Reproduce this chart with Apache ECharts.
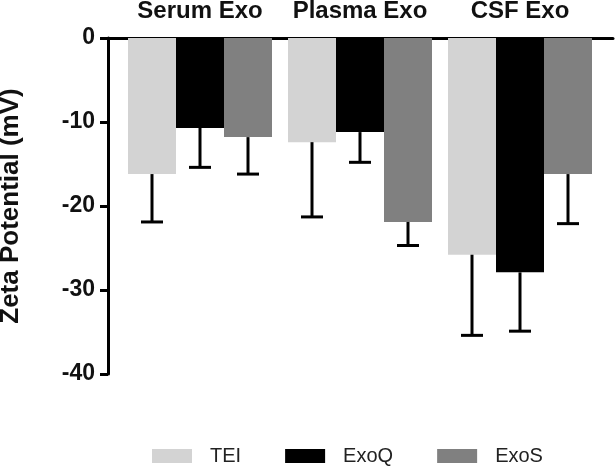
<!DOCTYPE html>
<html><head><meta charset="utf-8">
<script src="https://cdn.jsdelivr.net/npm/echarts@6/dist/echarts.min.js"></script>
<style>html,body{margin:0;padding:0;background:#fff}#c{width:615px;height:466px}</style>
</head><body><div id="c"></div>
<script>
const categories = ['Serum Exo', 'Plasma Exo', 'CSF Exo'];
const seriesNames = ['TEI', 'ExoQ', 'ExoS'];
const teiMean = [-16.2, -12.4, -25.8];
const teiErr  = [-21.9, -21.3, -35.4];
const exoqMean = [-10.7, -11.2, -27.9];
const exoqErr  = [-15.4, -14.8, -34.9];
const exosMean = [-11.8, -21.9, -16.2];
const exosErr  = [-16.2, -24.7, -22.1];
const yTicks = [-40, -30, -20, -10, 0];
const colors = ['#d3d3d3', '#000000', '#808080'];

const FONT = "'Liberation Sans', Arial, Helvetica, sans-serif";
const means = [teiMean, exoqMean, exosMean];
const errs = [teiErr, exoqErr, exosErr];
const BAR_W = 48;

const chart = echarts.init(document.getElementById('c'), null, {renderer: 'canvas'});

const bars = seriesNames.map((n, i) => ({
  name: n, type: 'bar', xAxisIndex: 1, yAxisIndex: 1,
  barWidth: BAR_W, barGap: '0%',
  itemStyle: {color: colors[i]},
  data: means[i], z: 2
}));

const errData = [];
for (let s = 0; s < 3; s++) for (let c = 0; c < categories.length; c++) errData.push([c, means[s][c], errs[s][c], s]);

const errSeries = {
  type: 'custom', xAxisIndex: 1, yAxisIndex: 1, z: 3, silent: true,
  data: errData,
  renderItem: function (params, api) {
    const c = api.value(0), m = api.value(1), e = api.value(2), s = api.value(3);
    const p0 = api.coord([c, m]);
    const p1 = api.coord([c, e]);
    const x = p0[0] + (s - 1) * BAR_W;
    const half = 11;
    return {
      type: 'group',
      children: [
        {type: 'line', shape: {x1: x, y1: p0[1], x2: x, y2: p1[1]}, style: {stroke: '#000', lineWidth: 3}},
        {type: 'line', shape: {x1: x - half, y1: p1[1], x2: x + half, y2: p1[1]}, style: {stroke: '#000', lineWidth: 3}}
      ]
    };
  }
};

chart.setOption({
  animation: false,
  backgroundColor: '#fff',
  textStyle: {fontFamily: FONT},
  grid: [
    {left: 108, right: 2, top: 38, height: 336, outerBoundsMode: 'none', containLabel: false},
    {left: 120, width: 480, top: 38, height: 336, outerBoundsMode: 'none', containLabel: false}
  ],
  legend: {
    data: seriesNames, left: 147, top: 441, icon: 'rect',
    itemWidth: 40, itemHeight: 14, itemGap: 44,
    textStyle: {fontFamily: FONT, fontSize: 20, color: '#222', padding: [0, 0, 0, 13]}
  },
  xAxis: [
    {type: 'value', gridIndex: 0, position: 'top', min: 0, max: 1,
     axisLine: {show: true, onZero: false, lineStyle: {color: '#000', width: 3}},
     axisTick: {show: false}, axisLabel: {show: false}, splitLine: {show: false}},
    {type: 'category', gridIndex: 1, position: 'top', data: categories,
     axisLine: {show: false}, axisTick: {show: false}, splitLine: {show: false},
     axisLabel: {fontFamily: FONT, fontSize: 24, fontWeight: 'bold', color: '#111', margin: 15, interval: 0}}
  ],
  yAxis: [
    {type: 'value', gridIndex: 0, min: yTicks[0], max: yTicks[yTicks.length - 1], interval: 10,
     name: 'Zeta Potential (mV)', nameLocation: 'middle', nameGap: 84,
     nameTextStyle: {fontFamily: FONT, fontSize: 26, fontWeight: 'bold', color: '#111'},
     axisLine: {show: true, onZero: false, lineStyle: {color: '#000', width: 3}},
     axisTick: {show: true, length: 8, lineStyle: {color: '#000', width: 3}},
     axisLabel: {fontFamily: FONT, fontSize: 23, fontWeight: 'bold', color: '#111', margin: 13},
     splitLine: {show: false}},
    {type: 'value', gridIndex: 1, min: yTicks[0], max: yTicks[yTicks.length - 1], interval: 10, show: false}
  ],
  series: bars.concat([errSeries])
});
</script>
</body></html>
